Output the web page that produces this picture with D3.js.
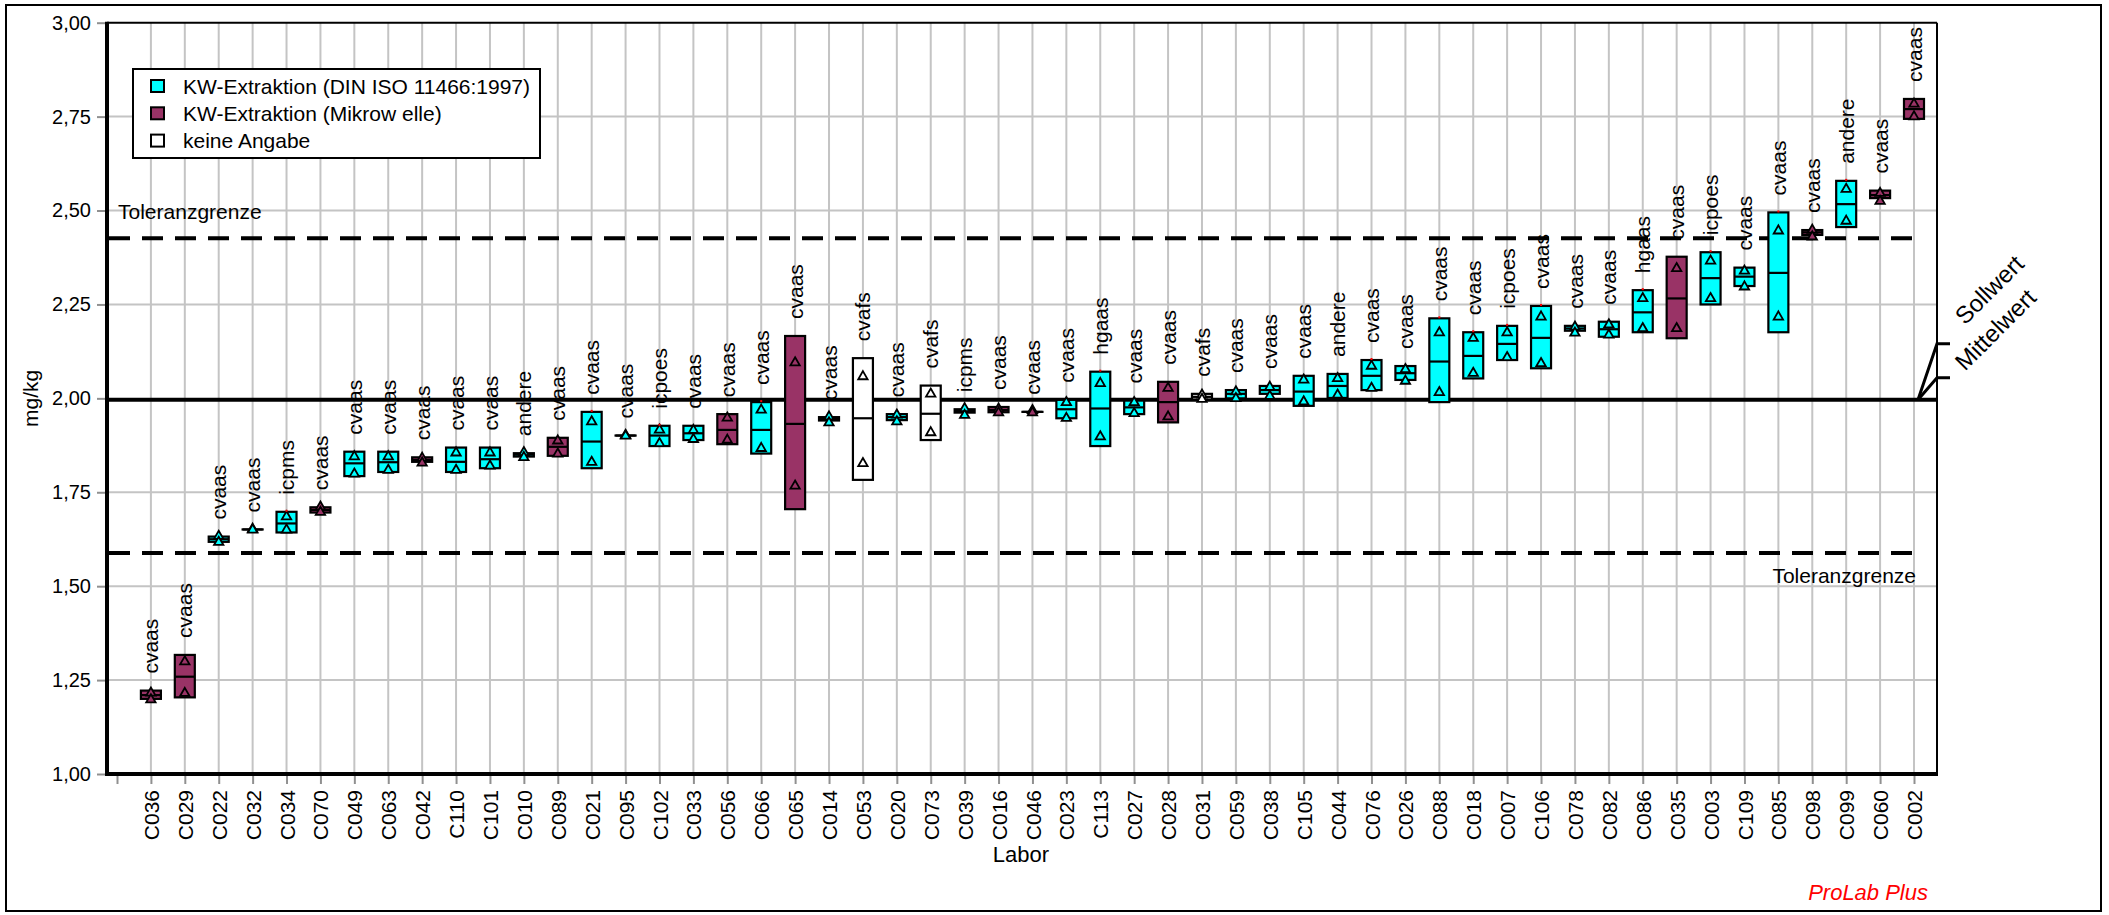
<!DOCTYPE html>
<html><head><meta charset="utf-8">
<script src="https://cdn.jsdelivr.net/npm/d3@7"></script>
<style>
body{margin:0;background:#fff;}
svg{display:block;font-family:"Liberation Sans",Arial,sans-serif;}
</style>
</head><body>
<svg id="chart" width="2109" height="915"></svg>
<script>
// ---------- data ----------
const labs = ["C036","C029","C022","C032","C034","C070","C049","C063","C042","C110","C101","C010","C089","C021","C095","C102","C033","C056","C066","C065","C014","C053","C020","C073","C039","C016","C046","C023","C113","C027","C028","C031","C059","C038","C105","C044","C076","C026","C088","C018","C007","C106","C078","C082","C086","C035","C003","C109","C085","C098","C099","C060","C002"];
const methods = ["cvaas","cvaas","cvaas","cvaas","icpms","cvaas","cvaas","cvaas","cvaas","cvaas","cvaas","andere","cvaas","cvaas","cvaas","icpoes","cvaas","cvaas","cvaas","cvaas","cvaas","cvafs","cvaas","cvafs","icpms","cvaas","cvaas","cvaas","hgaas","cvaas","cvaas","cvafs","cvaas","cvaas","cvaas","andere","cvaas","cvaas","cvaas","cvaas","icpoes","cvaas","cvaas","cvaas","hgaas","cvaas","icpoes","cvaas","cvaas","cvaas","andere","cvaas","cvaas"];
const groups = ["MW","MW","DIN","DIN","DIN","MW","DIN","DIN","MW","DIN","DIN","DIN","MW","DIN","DIN","DIN","DIN","MW","DIN","MW","DIN","NA","DIN","NA","DIN","MW","MW","DIN","DIN","DIN","MW","NA","DIN","DIN","DIN","DIN","DIN","DIN","DIN","DIN","DIN","DIN","DIN","DIN","DIN","MW","DIN","DIN","DIN","MW","DIN","MW","MW"];
const boxHi = [1.222,1.317,1.632,1.651,1.698,1.710,1.858,1.858,1.843,1.869,1.869,1.854,1.895,1.964,1.901,1.927,1.927,1.958,1.990,2.166,1.950,2.107,1.958,2.034,1.971,1.977,1.964,1.996,2.071,1.994,2.044,2.012,2.022,2.033,2.060,2.065,2.102,2.086,2.213,2.176,2.193,2.246,2.193,2.204,2.288,2.377,2.389,2.348,2.495,2.448,2.579,2.553,2.797];
const boxLo = [1.200,1.204,1.618,1.651,1.643,1.696,1.793,1.804,1.831,1.804,1.814,1.845,1.847,1.814,1.901,1.873,1.889,1.878,1.853,1.705,1.941,1.783,1.942,1.889,1.962,1.963,1.964,1.947,1.873,1.958,1.936,1.997,2.000,2.012,1.980,2.001,2.022,2.049,1.990,2.053,2.102,2.080,2.180,2.164,2.176,2.160,2.250,2.299,2.176,2.435,2.456,2.533,2.744];
const boxMid = [1.210,1.259,1.625,1.651,1.667,1.703,1.827,1.830,1.836,1.831,1.838,1.850,1.871,1.885,1.901,1.901,1.907,1.916,1.916,1.932,1.945,1.947,1.950,1.959,1.966,1.969,1.964,1.971,1.973,1.976,1.990,2.004,2.012,2.022,2.018,2.033,2.060,2.067,2.098,2.113,2.145,2.161,2.186,2.184,2.229,2.266,2.320,2.324,2.334,2.442,2.517,2.541,2.770];
const value1 = [1.216,1.299,1.633,1.652,1.685,1.711,1.845,1.845,1.841,1.855,1.855,1.856,1.887,1.938,1.902,1.916,1.915,1.948,1.969,2.095,1.951,2.058,1.956,2.012,1.973,1.972,1.968,1.989,2.040,1.989,2.027,2.009,2.018,2.030,2.049,2.053,2.086,2.077,2.175,2.160,2.175,2.217,2.190,2.196,2.266,2.346,2.366,2.339,2.446,2.448,2.557,2.546,2.784];
const value2 = [1.198,1.215,1.617,1.650,1.650,1.697,1.799,1.809,1.828,1.809,1.820,1.843,1.852,1.830,1.900,1.880,1.891,1.889,1.867,1.767,1.935,1.827,1.938,1.909,1.955,1.962,1.962,1.947,1.898,1.960,1.951,1.998,2.000,2.006,1.991,2.009,2.027,2.046,2.016,2.067,2.109,2.093,2.174,2.169,2.186,2.186,2.266,2.297,2.217,2.430,2.472,2.525,2.750];
const redMarked = ["C034","C021","C102","C066","C113","C076","C088","C018","C007","C106","C086","C003","C085","C099"];
const yTicks = [1.00,1.25,1.50,1.75,2.00,2.25,2.50,2.75,3.00];
const gridValues = [1.25,1.50,1.75,2.25,2.50,2.75];
const meanValue = 1.996;
const tolUpper = 2.426;
const tolLower = 1.588;
const legendKeys = ["DIN","MW","NA"];
const legendLabels = ["KW-Extraktion (DIN ISO 11466:1997)","KW-Extraktion (Mikrow elle)","keine Angabe"];
const groupColors = {DIN:"#00FFFF", MW:"#993366", NA:"#FFFFFF"};

// ---------- layout ----------
const svg = d3.select("#chart");
const L = 107, R = 1937, T = 22.7, B = 774;
const x = d3.scalePoint().domain(["", ...labs]).range([117, 1914]);
const y = d3.scaleLinear().domain([1, 3]).range([B, T]);
const GRID = "#c4c4c4", TICK = "#909090";

// outer frame
svg.append("rect").attr("x",6).attr("y",5).attr("width",2095).attr("height",906)
  .attr("fill","#fff").attr("stroke","#000").attr("stroke-width",2);

// grid
svg.append("g").selectAll("line").data(labs).join("line")
  .attr("x1",d=>x(d)).attr("x2",d=>x(d)).attr("y1",T).attr("y2",B)
  .attr("stroke",GRID).attr("stroke-width",2);
svg.append("g").selectAll("line").data(gridValues).join("line")
  .attr("x1",L).attr("x2",R).attr("y1",d=>y(d)).attr("y2",d=>y(d))
  .attr("stroke",GRID).attr("stroke-width",2);

// plot border top / right
svg.append("line").attr("x1",L).attr("x2",R).attr("y1",T).attr("y2",T).attr("stroke","#000").attr("stroke-width",2);
svg.append("line").attr("x1",R).attr("x2",R).attr("y1",T).attr("y2",B).attr("stroke","#000").attr("stroke-width",2);

// y axis
const yAxis = svg.append("g").attr("transform",`translate(${L},0)`)
  .call(d3.axisLeft(y).tickValues(yTicks).tickSize(10).tickPadding(6)
    .tickFormat(d => d3.format(".2f")(d).replace(".", ",")));
yAxis.select(".domain").remove();
yAxis.selectAll(".tick line").attr("stroke",TICK).attr("stroke-width",2);
yAxis.selectAll(".tick text").attr("font-size",20).attr("fill","#000")
  .attr("font-family","Liberation Sans, Arial, sans-serif");

// x axis
const xAxis = svg.append("g").attr("transform",`translate(0,${B})`)
  .call(d3.axisBottom(x).tickSize(10));
xAxis.select(".domain").remove();
xAxis.selectAll(".tick line").attr("stroke",TICK).attr("stroke-width",2);
xAxis.selectAll(".tick text")
  .attr("transform","rotate(-90)").attr("x",-16).attr("y",0).attr("dy","0.36em")
  .attr("text-anchor","end").attr("font-size",21).attr("fill","#000")
  .attr("font-family","Liberation Sans, Arial, sans-serif");

// tolerance lines
[tolUpper, tolLower].forEach(v => {
  svg.append("line").attr("x1",L+2).attr("x2",1916).attr("y1",y(v)).attr("y2",y(v))
    .attr("stroke","#000").attr("stroke-width",4).attr("stroke-dasharray","21,12");
});
svg.append("text").attr("x",118).attr("y",y(tolUpper)-19).attr("font-size",21).text("Toleranzgrenze");
svg.append("text").attr("x",1916).attr("y",y(tolLower)+30).attr("font-size",21)
  .attr("text-anchor","end").text("Toleranzgrenze");

// mean line
svg.append("line").attr("x1",L).attr("x2",R).attr("y1",y(meanValue)).attr("y2",y(meanValue))
  .attr("stroke","#000").attr("stroke-width",4);

// leaders for Sollwert / Mittelwert
const ym = y(meanValue);
[[ym-56, ym-74, "Sollwert"],[ym-22, ym-28, "Mittelwert"]].forEach(([yy,ty,label]) => {
  svg.append("polyline").attr("points",`1918,${ym} ${R},${yy} 1950,${yy}`)
    .attr("fill","none").attr("stroke","#000").attr("stroke-width",3);
  svg.append("text").attr("transform",`translate(1965,${ty}) rotate(-45)`)
    .attr("font-size",24).text(label);
});

// axes lines (thick)
svg.append("line").attr("x1",L).attr("x2",L).attr("y1",T-1).attr("y2",B+2).attr("stroke","#000").attr("stroke-width",4);
svg.append("line").attr("x1",L-1).attr("x2",R+1).attr("y1",B).attr("y2",B).attr("stroke","#000").attr("stroke-width",4);

// boxes
const rows = labs.map((lab,i)=>({lab, method:methods[i], g:groups[i], hi:boxHi[i], lo:boxLo[i], mid:boxMid[i], v1:value1[i], v2:value2[i]}));
const BW = 20;
const gBox = svg.append("g");
gBox.selectAll("rect").data(rows).join("rect")
  .attr("x",d=>x(d.lab)-BW/2).attr("width",BW)
  .attr("y",d=>y(d.hi)).attr("height",d=>Math.max(0.01,y(d.lo)-y(d.hi)))
  .attr("fill",d=>groupColors[d.g]).attr("stroke","#000").attr("stroke-width",2.2);
gBox.selectAll("line.mid").data(rows).join("line").attr("class","mid")
  .attr("x1",d=>x(d.lab)-BW/2).attr("x2",d=>x(d.lab)+BW/2)
  .attr("y1",d=>y(d.mid)).attr("y2",d=>y(d.mid))
  .attr("stroke","#000").attr("stroke-width",2.2);

// triangles for individual values
const tri = d3.symbol(d3.symbolTriangle).size(38);
const pts = rows.flatMap(d => [{lab:d.lab,g:d.g,v:d.v1},{lab:d.lab,g:d.g,v:d.v2}]);
svg.append("g").selectAll("path").data(pts).join("path")
  .attr("d",tri).attr("transform",d=>`translate(${x(d.lab)},${y(d.v)})`)
  .attr("fill",d=>groupColors[d.g]).attr("stroke","#000").attr("stroke-width",1.8);

// red marks
svg.append("g").selectAll("rect").data(rows.filter(d=>redMarked.includes(d.lab))).join("rect")
  .attr("x",d=>x(d.lab)-1).attr("y",d=>y(d.hi)-2).attr("width",2).attr("height",2).attr("fill","#ff0000");

// method labels
svg.append("g").selectAll("text").data(rows).join("text")
  .attr("transform",d=>`translate(${x(d.lab)},${y(d.hi)-17}) rotate(-90)`)
  .attr("dy","0.36em").attr("font-size",21).attr("text-anchor","start").text(d=>d.method);

// legend
const lg = svg.append("g");
lg.append("rect").attr("x",133).attr("y",69).attr("width",407).attr("height",89)
  .attr("fill","#fff").attr("stroke","#000").attr("stroke-width",2);
legendKeys.forEach((k,i)=>{
  const cy = 86 + i*27.3;
  lg.append("rect").attr("x",151).attr("y",cy-6).attr("width",13).attr("height",12)
    .attr("fill",groupColors[k]).attr("stroke","#000").attr("stroke-width",2);
  lg.append("text").attr("x",183).attr("y",cy+7.5).attr("font-size",21).text(legendLabels[i]);
});

// axis titles
svg.append("text").attr("transform",`translate(38,${(T+B)/2}) rotate(-90)`)
  .attr("text-anchor","middle").attr("font-size",21).text("mg/kg");
svg.append("text").attr("x",1021).attr("y",862).attr("text-anchor","middle").attr("font-size",22).text("Labor");

// watermark
svg.append("text").attr("x",1928).attr("y",900).attr("text-anchor","end").attr("font-size",22)
  .attr("font-style","italic").attr("fill","#ff0000").text("ProLab Plus");
</script>
</body></html>
